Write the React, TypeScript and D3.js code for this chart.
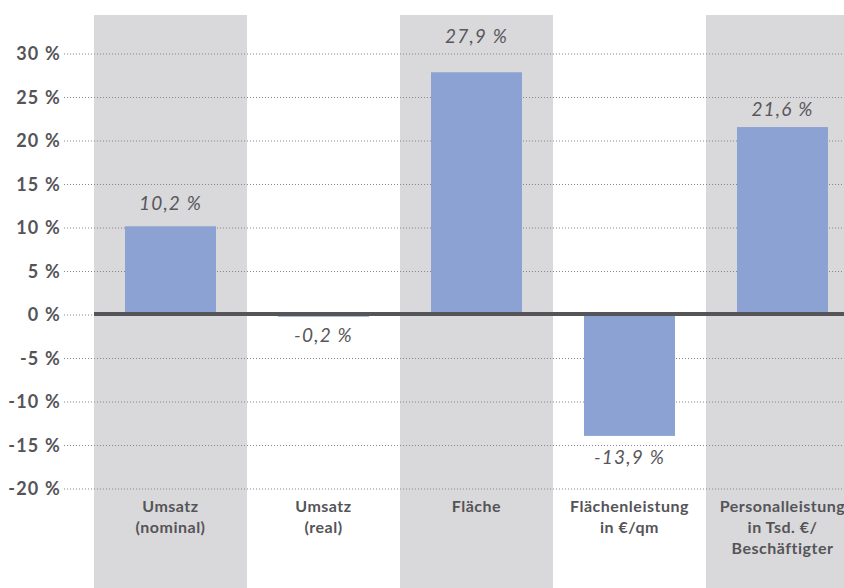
import React from "react";
import * as d3 from "d3";

// Kennzahlen: Veränderung in Prozent
const categories: string[][] = [
  ["Umsatz", "(nominal)"],
  ["Umsatz", "(real)"],
  ["Fläche"],
  ["Flächenleistung", "in €/qm"],
  ["Personalleistung", "in Tsd. €/", "Beschäftigter"],
];
const values: number[] = [10.2, -0.2, 27.9, -13.9, 21.6];
const valueLabels: string[] = ["10,2 %", "-0,2 %", "27,9 %", "-13,9 %", "21,6 %"];
const tickValues: number[] = [30, 25, 20, 15, 10, 5, 0, -5, -10, -15, -20];

const W = 844;
const H = 588;
const FONT = "Lato, 'Open Sans', sans-serif";

export default function App() {
  const x = d3
    .scaleBand<number>()
    .domain(d3.range(categories.length))
    .range([94, 94 + 153 * categories.length])
    .paddingInner(0)
    .paddingOuter(0);
  const y = d3.scaleLinear().domain([-20, 30]).range([489, 54]);
  const barW = 91;
  const y0 = y(0);

  // vertical distance between bar end and its label
  const labelGap = (i: number, v: number) => {
    if (v >= 0) return i === 2 ? 29 : i === 4 ? 11 : 16;
    return i === 1 ? 25 : 28;
  };

  return (
    <svg
      width={W}
      height={H}
      style={{ position: "absolute", left: 0, top: 0, background: "#fff" }}
    >
      {/* alternating column backgrounds */}
      {categories.map((_, i) =>
        i % 2 === 0 ? (
          <rect
            key={"bg" + i}
            x={x(i)!}
            y={15}
            width={x.bandwidth()}
            height={H - 15}
            fill="#d9d9db"
          />
        ) : null
      )}

      {/* grid lines and tick labels */}
      {tickValues.map((t) => (
        <g key={"t" + t}>
          <line
            x1={64}
            x2={W}
            y1={y(t)}
            y2={y(t)}
            stroke="#858585"
            strokeWidth={1}
            strokeDasharray="1,2"
          />
          <text
            x={61}
            y={y(t)}
            dy="0.36em"
            textAnchor="end"
            fontFamily={FONT}
            fontWeight={700}
            fontSize={18}
            letterSpacing={1.2}
            fill="#555458"
          >
            {t} %
          </text>
        </g>
      ))}

      {/* bars */}
      {values.map((v, i) => {
        const cx = x(i)! + x.bandwidth() / 2;
        return (
          <rect
            key={"b" + i}
            x={cx - barW / 2}
            y={Math.min(y(v), y0)}
            width={barW}
            height={Math.abs(y(v) - y0)}
            fill="#8ba2d2"
          />
        );
      })}

      {/* zero line */}
      <line x1={x(0)!} x2={W} y1={y0 - 1} y2={y0 - 1} stroke="#555458" strokeWidth={4} />

      {/* value labels */}
      {values.map((v, i) => {
        const cx = x(i)! + x.bandwidth() / 2;
        const yy = v >= 0 ? y(v) - labelGap(i, v) : Math.max(y(v), y0 + 2) + labelGap(i, v);
        return (
          <text
            key={"v" + i}
            x={cx}
            y={yy}
            textAnchor="middle"
            fontFamily={FONT}
            fontStyle="italic"
            fontWeight={400}
            fontSize={19}
            fill="#58575b"
            letterSpacing={1.2}
          >
            {valueLabels[i]}
          </text>
        );
      })}

      {/* category labels */}
      {categories.map((lines, i) => {
        const cx = x(i)! + x.bandwidth() / 2;
        return (
          <text
            key={"c" + i}
            x={cx}
            textAnchor="middle"
            fontFamily={FONT}
            fontWeight={700}
            fontSize={16}
            letterSpacing={0.5}
            fill="#555458"
          >
            {lines.map((l, j) => (
              <tspan key={j} x={cx} y={512 + j * 21}>
                {l}
              </tspan>
            ))}
          </text>
        );
      })}
    </svg>
  );
}
